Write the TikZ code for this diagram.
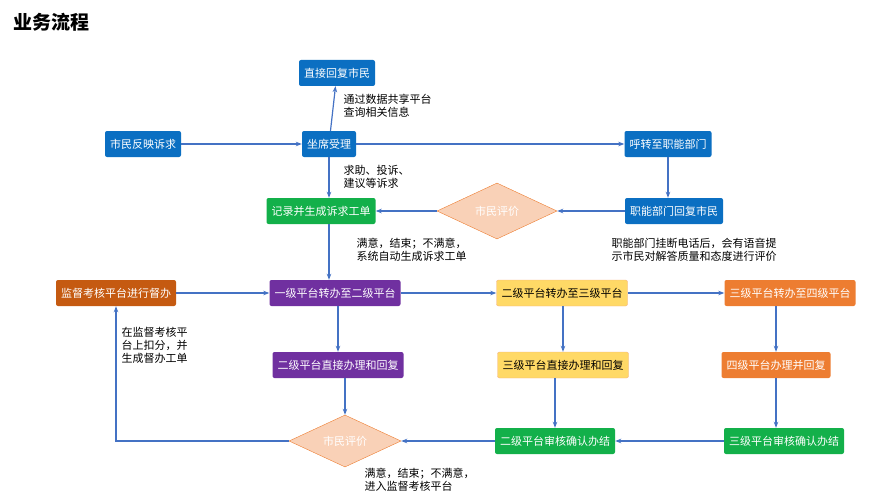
\documentclass[tikz,border=0pt]{standalone}
\usepackage{fontspec}
\setmainfont{Noto Sans CJK SC}
\usetikzlibrary{shapes.geometric,arrows.meta}
\definecolor{boxblue}{HTML}{0B6FC2}
\definecolor{boxgreen}{HTML}{13B04A}
\definecolor{boxpurple}{HTML}{7030A0}
\definecolor{boxyellow}{HTML}{FFD966}
\definecolor{boxorange}{HTML}{ED7D31}
\definecolor{boxbrown}{HTML}{C55A11}
\definecolor{linkblue}{HTML}{4472C4}
\tikzset{
  flowbox/.style={rectangle, rounded corners=2pt, minimum height=26pt, inner xsep=5pt, text=white, font=\fontsize{11}{13}\selectfont},
  blue box/.style={flowbox, fill=boxblue},
  green box/.style={flowbox, fill=boxgreen},
  purple box/.style={flowbox, fill=boxpurple},
  yellow box/.style={flowbox, fill=boxyellow, draw=boxorange!60, text=black},
  orange box/.style={flowbox, fill=boxorange},
  brown box/.style={flowbox, fill=boxbrown},
  judge/.style={diamond, aspect=2.2, draw=boxorange, fill=boxorange!35, text=white, inner sep=1pt, font=\fontsize{11}{13}\selectfont},
  link/.style={draw=linkblue, line width=1.2pt, -{Stealth[length=6pt]}},
  note/.style={align=left, font=\fontsize{11}{13}\selectfont}
}
\begin{document}
\begin{tikzpicture}[x=1pt, y=-1pt]
\useasboundingbox (0,0) rectangle (896,500);
\node[anchor=west, font=\fontsize{19}{22}\selectfont\bfseries] (title) at (10,22) {业务流程};

% hotline
\node[blue box] (reply) at (337,73) {直接回复市民};
\node[blue box] (citizen) at (143,144) {市民反映诉求};
\node[blue box] (seat) at (329,144) {坐席受理};
\node[blue box] (transfer) at (668,144) {呼转至职能部门};
\node[green box] (record) at (321,211) {记录并生成诉求工单};
\node[judge, minimum width=120pt, minimum height=56pt] (evalA) at (497,211) {市民评价};
\node[blue box] (deptreply) at (674,211) {职能部门回复市民};

% platforms
\node[brown box] (supervise) at (116,293) {监督考核平台进行督办};
\node[purple box] (lvlone) at (335,293) {一级平台转办至二级平台};
\node[yellow box] (lvltwo) at (562,293) {二级平台转办至三级平台};
\node[orange box] (lvlthree) at (790,293) {三级平台转办至四级平台};
\node[purple box] (handletwo) at (338,365) {二级平台直接办理和回复};
\node[yellow box] (handlethree) at (563,365) {三级平台直接办理和回复};
\node[orange box] (handlefour) at (776,365) {四级平台办理并回复};
\node[judge, minimum width=112pt, minimum height=52pt] (evalB) at (345,441) {市民评价};
\node[green box] (closetwo) at (555,441) {二级平台审核确认办结};
\node[green box] (closethree) at (784,441) {三级平台审核确认办结};

\draw[link] (seat) -- (reply);
\draw[link] (citizen) -- (seat);
\draw[link] (seat) -- (transfer);
\draw[link] (seat) -- (seat |- record.north);
\draw[link] (transfer) -- (transfer |- deptreply.north);
\draw[link] (deptreply) -- (evalA);
\draw[link] (evalA) -- (record);
\draw[link] (record.south -| seat) -- (seat |- lvlone.north);
\draw[link] (supervise) -- (lvlone);
\draw[link] (lvlone) -- (lvltwo);
\draw[link] (lvltwo) -- (lvlthree);
\draw[link] (lvlone.south -| handletwo) -- (handletwo);
\draw[link] (lvltwo.south -| handlethree) -- (handlethree);
\draw[link] (lvlthree.south -| handlefour) -- (handlefour);
\draw[link] (handletwo.south -| evalB) -- (evalB);
\draw[link] (handlethree.south -| closetwo) -- (closetwo);
\draw[link] (handlefour.south -| handlefour) -- (closethree.north -| handlefour);
\draw[link] (closethree) -- (closetwo);
\draw[link] (closetwo) -- (evalB);
\draw[link] (evalB.west) -- (evalB.west -| supervise) -- (supervise);

\node[note, anchor=west] (noteshare) at (340,106) {通过数据共享平台\\查询相关信息};
\node[note, anchor=west] (notekind) at (340,177) {求助、投诉、\\建议等诉求};
\node[note, anchor=west] (noteauto) at (353,250) {满意，结束；不满意，\\系统自动生成诉求工单};
\node[note, anchor=west] (notevoice) at (608,250) {职能部门挂断电话后，会有语音提\\示市民对解答质量和态度进行评价};
\node[note, anchor=west] (notepoint) at (118,345) {在监督考核平\\台上扣分，并\\生成督办工单};
\node[note, anchor=west] (notesuper) at (361,480) {满意，结束；不满意，\\进入监督考核平台};
\end{tikzpicture}
\end{document}
